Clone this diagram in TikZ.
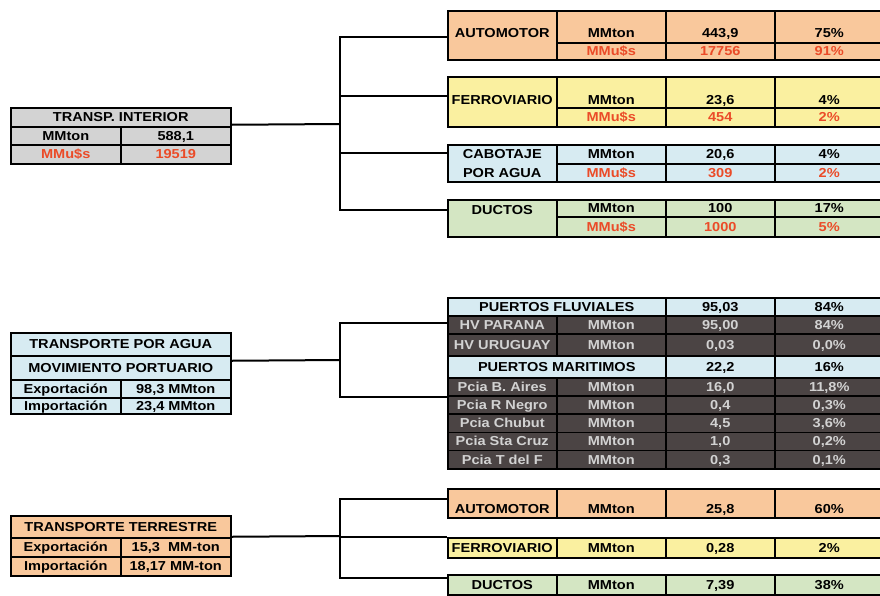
\documentclass[tikz,border=0pt]{standalone}
\usepackage{fontspec}
\newfontfamily\tabfont{Liberation Sans}[FakeStretch=1.12]

\definecolor{durazno}{HTML}{F9C89C}
\definecolor{amarillo}{HTML}{FAF0A0}
\definecolor{celeste}{HTML}{D7EBF2}
\definecolor{verde}{HTML}{D4E6C3}
\definecolor{gris}{HTML}{D3D3D3}
\definecolor{oscuro}{HTML}{4B4444}
\definecolor{rojo}{HTML}{EB4B28}
\definecolor{claro}{HTML}{D2D2D2}

\tikzset{
  celda/.style={draw=black, line width=1.5pt, anchor=north west, inner sep=0pt,
    minimum width=109, text height=9pt, text depth=0pt,
    font=\tabfont\bfseries\fontsize{13}{15}\selectfont},
  dinero/.style={text=rojo},
  oscura/.style={fill=oscuro, text=claro},
  enlace/.style={line width=2pt, black},
}

\begin{document}
\begin{tikzpicture}[x=1pt, y=-1pt]

    \useasboundingbox (0,0) rectangle (880,595);

    % transporte interior
    \node[celda, fill=gris, minimum width=220, minimum height=19] (ti) at (10,107) {TRANSP. INTERIOR};
    \node[celda, fill=gris, minimum width=110, minimum height=18] (ti-t) at (10,126) {MMton};
    \node[celda, fill=gris, minimum width=110, minimum height=18] (ti-tv) at (120,126) {588,1};
    \node[celda, fill=gris, dinero, minimum width=110, minimum height=19] (ti-u) at (10,144) {MMu\$s};
    \node[celda, fill=gris, dinero, minimum width=110, minimum height=19] (ti-uv) at (120,144) {19519};

    % automotor
    \node[celda, fill=durazno, minimum height=49, text depth=5pt] (au) at (447,10) {AUTOMOTOR};
    \node[celda, fill=durazno, minimum height=32, text height=21pt] (au-t) at (556,10) {MMton};
    \node[celda, fill=durazno, minimum height=32, text height=21pt] (au-tv) at (665,10) {443,9};
    \node[celda, fill=durazno, minimum height=32, text height=21pt] (au-tp) at (774,10) {75\%};
    \node[celda, fill=durazno, dinero, minimum height=17] (au-u) at (556,42) {MMu\$s};
    \node[celda, fill=durazno, dinero, minimum height=17] (au-uv) at (665,42) {17756};
    \node[celda, fill=durazno, dinero, minimum height=17] (au-up) at (774,42) {91\%};

    % ferroviario
    \node[celda, fill=amarillo, minimum height=50, text depth=4pt] (fe) at (447,76) {FERROVIARIO};
    \node[celda, fill=amarillo, minimum height=31, text height=24pt] (fe-t) at (556,76) {MMton};
    \node[celda, fill=amarillo, minimum height=31, text height=24pt] (fe-tv) at (665,76) {23,6};
    \node[celda, fill=amarillo, minimum height=31, text height=24pt] (fe-tp) at (774,76) {4\%};
    \node[celda, fill=amarillo, dinero, minimum height=19] (fe-u) at (556,107) {MMu\$s};
    \node[celda, fill=amarillo, dinero, minimum height=19] (fe-uv) at (665,107) {454};
    \node[celda, fill=amarillo, dinero, minimum height=19] (fe-up) at (774,107) {2\%};

    % cabotaje
    \node[celda, fill=celeste, minimum height=37, text height=28pt, align=center,
      font=\tabfont\bfseries\fontsize{13}{19}\selectfont] (ca) at (447,144) {CABOTAJE\\POR AGUA};
    \node[celda, fill=celeste, minimum height=19] (ca-t) at (556,144) {MMton};
    \node[celda, fill=celeste, minimum height=19] (ca-tv) at (665,144) {20,6};
    \node[celda, fill=celeste, minimum height=19] (ca-tp) at (774,144) {4\%};
    \node[celda, fill=celeste, dinero, minimum height=18] (ca-u) at (556,163) {MMu\$s};
    \node[celda, fill=celeste, dinero, minimum height=18] (ca-uv) at (665,163) {309};
    \node[celda, fill=celeste, dinero, minimum height=18] (ca-up) at (774,163) {2\%};

    % ductos
    \node[celda, fill=verde, minimum height=37, text depth=17pt] (du) at (447,199) {DUCTOS};
    \node[celda, fill=verde, minimum height=17] (du-t) at (556,199) {MMton};
    \node[celda, fill=verde, minimum height=17] (du-tv) at (665,199) {100};
    \node[celda, fill=verde, minimum height=17] (du-tp) at (774,199) {17\%};
    \node[celda, fill=verde, dinero, minimum height=20] (du-u) at (556,216) {MMu\$s};
    \node[celda, fill=verde, dinero, minimum height=20] (du-uv) at (665,216) {1000};
    \node[celda, fill=verde, dinero, minimum height=20] (du-up) at (774,216) {5\%};

    % ramas transporte interior
    \coordinate (nodo1) at (340,124);
    \draw[enlace] ([yshift=-7.5pt]ti.east) -- (nodo1);
    \draw[enlace] (nodo1) |- ([yshift=-1.5pt]au.west);
    \draw[enlace] (nodo1) |- ([yshift=6pt]fe.west);
    \draw[enlace] (nodo1) |- ([yshift=10.5pt]ca.west);
    \draw[enlace] (nodo1) |- ([yshift=8.5pt]du.west);

    % transporte por agua
    \node[celda, fill=celeste, minimum width=220, minimum height=23] (tpa) at (10,332) {TRANSPORTE POR AGUA};
    \node[celda, fill=celeste, minimum width=220, minimum height=24] (mp) at (10,355) {MOVIMIENTO PORTUARIO};
    \node[celda, fill=celeste, minimum width=110, minimum height=18] (tpa-e) at (10,379) {Exportación};
    \node[celda, fill=celeste, minimum width=110, minimum height=18] (tpa-ev) at (120,379) {98,3 MMton};
    \node[celda, fill=celeste, minimum width=110, minimum height=16] (tpa-i) at (10,397) {Importación};
    \node[celda, fill=celeste, minimum width=110, minimum height=16] (tpa-iv) at (120,397) {23,4 MMton};

    % puertos fluviales
    \node[celda, fill=celeste, minimum width=218, minimum height=18] (pf) at (447,297) {PUERTOS FLUVIALES};
    \node[celda, fill=celeste, minimum height=18] (pf-v) at (665,297) {95,03};
    \node[celda, fill=celeste, minimum height=18] (pf-p) at (774,297) {84\%};
    \node[celda, oscura, minimum height=18] (hvp) at (447,315) {HV PARANA};
    \node[celda, oscura, minimum height=18] (hvp-t) at (556,315) {MMton};
    \node[celda, oscura, minimum height=18] (hvp-v) at (665,315) {95,00};
    \node[celda, oscura, minimum height=18] (hvp-p) at (774,315) {84\%};
    \node[celda, oscura, minimum height=22] (hvu) at (447,333) {HV URUGUAY};
    \node[celda, oscura, minimum height=22] (hvu-t) at (556,333) {MMton};
    \node[celda, oscura, minimum height=22] (hvu-v) at (665,333) {0,03};
    \node[celda, oscura, minimum height=22] (hvu-p) at (774,333) {0,0\%};

    % puertos maritimos
    \node[celda, fill=celeste, minimum width=218, minimum height=22] (pm) at (447,355) {PUERTOS MARITIMOS};
    \node[celda, fill=celeste, minimum height=22] (pm-v) at (665,355) {22,2};
    \node[celda, fill=celeste, minimum height=22] (pm-p) at (774,355) {16\%};
    \foreach \i/\y/\prov/\tn/\pc in {1/377/Pcia B. Aires/{16,0}/{11,8\%},
        2/395.2/Pcia R Negro/{0,4}/{0,3\%}, 3/413.4/Pcia Chubut/{4,5}/{3,6\%},
        4/431.6/Pcia Sta Cruz/{1,0}/{0,2\%}, 5/449.8/Pcia T del F/{0,3}/{0,1\%}} {
      \node[celda, oscura, minimum height=18.2] (p\i) at (447,\y) {\prov};
      \node[celda, oscura, minimum height=18.2] (p\i-t) at (556,\y) {MMton};
      \node[celda, oscura, minimum height=18.2] (p\i-v) at (665,\y) {\tn};
      \node[celda, oscura, minimum height=18.2] (p\i-p) at (774,\y) {\pc};
    }

    % ramas transporte por agua
    \coordinate (nodo2) at (340,360);
    \draw[enlace] ([yshift=7pt]mp.east) -- (nodo2);
    \draw[enlace] (nodo2) |- ([yshift=2pt]hvp.west);
    \draw[enlace] (nodo2) |- ([yshift=-10pt]p1.west);

    % transporte terrestre
    \node[celda, fill=durazno, minimum width=220, minimum height=22] (tt) at (10,515) {TRANSPORTE TERRESTRE};
    \node[celda, fill=durazno, minimum width=110, minimum height=19] (tt-e) at (10,537) {Exportación};
    \node[celda, fill=durazno, minimum width=110, minimum height=19] (tt-ev) at (120,537) {15,3~~MM-ton};
    \node[celda, fill=durazno, minimum width=110, minimum height=19] (tt-i) at (10,556) {Importación};
    \node[celda, fill=durazno, minimum width=110, minimum height=19] (tt-iv) at (120,556) {18,17 MM-ton};

    % terrestre: automotor, ferroviario, ductos
    \node[celda, fill=durazno, minimum height=29, text height=20pt] (tau) at (447,488) {AUTOMOTOR};
    \node[celda, fill=durazno, minimum height=29, text height=20pt] (tau-t) at (556,488) {MMton};
    \node[celda, fill=durazno, minimum height=29, text height=20pt] (tau-v) at (665,488) {25,8};
    \node[celda, fill=durazno, minimum height=29, text height=20pt] (tau-p) at (774,488) {60\%};
    \node[celda, fill=amarillo, minimum height=20] (tfe) at (447,537) {FERROVIARIO};
    \node[celda, fill=amarillo, minimum height=20] (tfe-t) at (556,537) {MMton};
    \node[celda, fill=amarillo, minimum height=20] (tfe-v) at (665,537) {0,28};
    \node[celda, fill=amarillo, minimum height=20] (tfe-p) at (774,537) {2\%};
    \node[celda, fill=verde, minimum height=20] (tdu) at (447,574) {DUCTOS};
    \node[celda, fill=verde, minimum height=20] (tdu-t) at (556,574) {MMton};
    \node[celda, fill=verde, minimum height=20] (tdu-v) at (665,574) {7,39};
    \node[celda, fill=verde, minimum height=20] (tdu-p) at (774,574) {38\%};

    % ramas transporte terrestre
    \coordinate (nodo3) at (340,536);
    \draw[enlace] ([yshift=-10pt]tt.east) -- (nodo3);
    \draw[enlace] (nodo3) |- ([yshift=4.5pt]tau.west);
    \draw[enlace] (nodo3) |- ([yshift=11pt]tfe.west);
    \draw[enlace] (nodo3) |- ([yshift=7pt]tdu.west);

\end{tikzpicture}
\end{document}
